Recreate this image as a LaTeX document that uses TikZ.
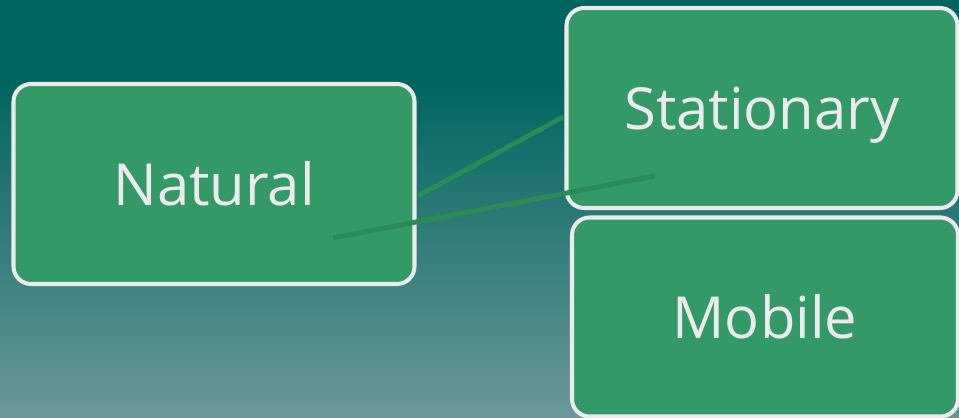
\documentclass[tikz,border=0pt]{standalone}
\usepackage{fontspec}
\setmainfont{Open Sans}
\definecolor{bgtop}{HTML}{00655F}
\definecolor{bgbot}{HTML}{6A9898}
\definecolor{boxgreen}{HTML}{339966}
\definecolor{boxedge}{HTML}{EBEBEB}
\definecolor{linkgreen}{HTML}{2A8A58}
\tikzset{
  box/.style={rounded corners=10pt, fill=boxgreen, draw=boxedge, line width=2.3pt,
    text=boxedge, font=\fontsize{33}{40}\selectfont, inner sep=0pt,
    text height=24pt, text depth=0pt},
  link/.style={draw=linkgreen, line width=2.8pt}
}
\begin{document}
\begin{tikzpicture}[x=0.02cm,y=-0.02cm]
% Background
\clip (0,0) rectangle (959,418);
\fill[bgtop] (0,0) rectangle (959,81);
\shade[top color=bgtop, bottom color=bgbot] (0,80) rectangle (959,418);
% Boxes
\node[box, minimum width=401*0.02cm, minimum height=200*0.02cm] (natural) at (214,184) {Natural};
\node[box, minimum width=391*0.02cm, minimum height=200*0.02cm] (stationary) at (762,108) {Stationary};
\node[box, minimum width=386*0.02cm, minimum height=199*0.02cm] (mobile) at (765,317) {Mobile};
% Connector ends
\coordinate (natout) at (418,196);
\coordinate (statin) at (563,117);
\coordinate (natin) at (333,238);
\coordinate (statout) at (655,176);
% Connectors
\draw[link] (natout) -- (statin);
\draw[link] (natin) -- (statout);
\end{tikzpicture}
\end{document}
